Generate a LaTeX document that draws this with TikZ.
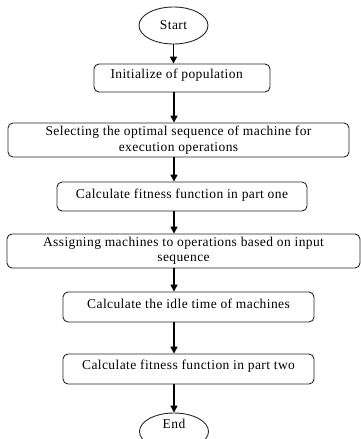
\documentclass[tikz,border=0pt]{standalone}
\usepackage{fontspec}
\setmainfont{Liberation Serif}[LetterSpace=3]
\usetikzlibrary{shapes.geometric,arrows.meta}
\begin{document}
\begin{tikzpicture}[x=1pt,y=-1pt,
  stepbox/.style={draw=black!85,line width=0.9pt,rounded corners=5pt,inner sep=0pt},
  term/.style={draw=black!85,line width=0.9pt,ellipse,inner sep=0pt},
  lbl/.style={font=\fontsize{13.5}{15.5}\selectfont,align=center,text=black},
  arr/.style={draw=black,line width=1.6pt,-{Triangle[length=7pt,width=7pt]}}]
\useasboundingbox (0,0) rectangle (361,439);
\node[term,minimum width=69pt,minimum height=37pt] (start) at (173.5,25.5) {};
\node[lbl] at (start.center) {Start};
\node[stepbox,minimum width=176pt,minimum height=28pt] (b1) at (182,78) {};
\node[lbl,anchor=west] at (107,75) {Initialize of population};
\node[stepbox,minimum width=341pt,minimum height=34pt] (b2) at (178.5,140) {};
\node[lbl] at (178.5,140) {Selecting the optimal sequence of machine for\\execution operations};
\node[stepbox,minimum width=250pt,minimum height=29pt] (b3) at (182,196.5) {};
\node[lbl] at (182,195.5) {Calculate fitness function in part one};
\node[stepbox,minimum width=353pt,minimum height=34pt] (b4) at (183.5,251) {};
\node[lbl] at (183.5,251) {Assigning machines to operations based on input\\sequence};
\node[stepbox,minimum width=251pt,minimum height=30pt] (b5) at (188.5,307) {};
\node[lbl] at (188.5,304) {Calculate the idle time of machines};
\node[stepbox,minimum width=251pt,minimum height=30pt] (b6) at (188.5,369) {};
\node[lbl] at (188.5,366) {Calculate fitness function in part two};
\node[term,minimum width=69pt,minimum height=37pt] (end) at (174,431.5) {};
\node[lbl] at (174,424) {End};
\coordinate (x) at (174,0);
\draw[arr] (start.south) -- (start.south |- b1.north);
\draw[arr] (x |- b1.south) -- (x |- b2.north);
\draw[arr] (x |- b2.south) -- (x |- b3.north);
\draw[arr] (x |- b3.south) -- (x |- b4.north);
\draw[arr] (x |- b4.south) -- (x |- b5.north);
\draw[arr] (x |- b5.south) -- (x |- b6.north);
\draw[arr] (x |- b6.south) -- (end.north);
\end{tikzpicture}
\end{document}
